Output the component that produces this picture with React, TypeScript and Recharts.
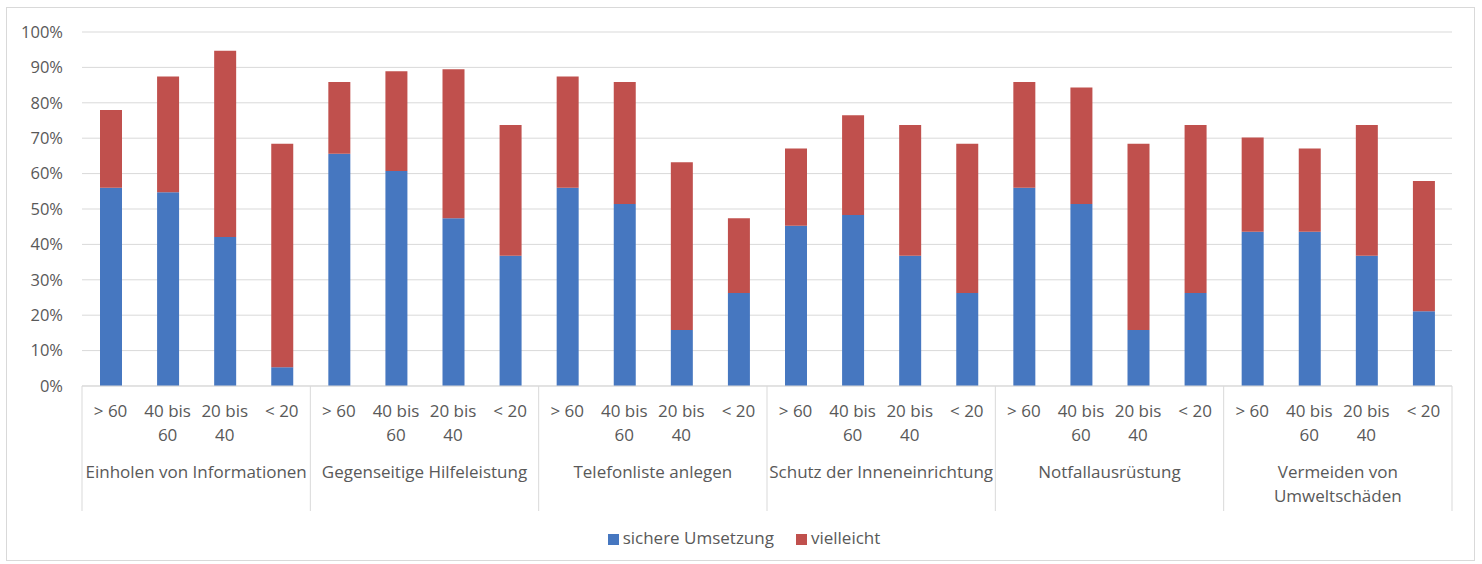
import { BarChart, Bar, XAxis, YAxis, CartesianGrid, Legend } from 'recharts';

// Handlungsbereitschaft nach Altersgruppe, sechs Maßnahmen mit je vier Altersgruppen
const groupLines: string[][] = [
  ['Einholen von Informationen'],
  ['Gegenseitige Hilfeleistung'],
  ['Telefonliste anlegen'],
  ['Schutz der Inneneinrichtung'],
  ['Notfallausrüstung'],
  ['Vermeiden von', 'Umweltschäden'],
];

const ageLines: string[][] = [['> 60'], ['40 bis', '60'], ['20 bis', '40'], ['< 20']];

const sichereUmsetzung = [
  56, 54.7, 42.1, 5.3,
  65.6, 60.7, 47.4, 36.8,
  56, 51.4, 15.8, 26.3,
  45.3, 48.3, 36.8, 26.3,
  56, 51.4, 15.8, 26.3,
  43.6, 43.6, 36.8, 21.1,
];

const vielleicht = [
  22, 32.7, 52.6, 63.1,
  20.3, 28.2, 42.1, 36.9,
  31.4, 34.5, 47.4, 21.1,
  21.8, 28.2, 36.9, 42.1,
  29.9, 32.9, 52.6, 47.4,
  26.6, 23.5, 36.9, 36.8,
];

const yTicks = [0, 10, 20, 30, 40, 50, 60, 70, 80, 90, 100];

const BLUE = '#4677C0';
const RED = '#C0504D';
const TEXT = '#595959';
const LINE = '#D9D9D9';
const FONT = '"Open Sans", sans-serif';

const WIDTH = 1482;
const HEIGHT = 564;
const LEGEND_HEIGHT = 20;
const X_AXIS_HEIGHT = 130;
const MARGIN = { top: 32, right: 30, left: 22, bottom: 48 - LEGEND_HEIGHT };
const Y_AXIS_WIDTH = 60;
const AGES = ageLines.length;

const data = sichereUmsetzung.map((s, i) => ({
  id: i,
  sicher: s,
  vielleicht: vielleicht[i],
}));

const fallbackHalfBand =
  (WIDTH - MARGIN.left - MARGIN.right - Y_AXIS_WIDTH) / data.length / 2;

function CategoryTick(props: any) {
  const { x, y, payload } = props;
  const i: number = props.index ?? payload.index;
  const half: number = payload.offset || fallbackHalfBand;
  const ages = ageLines[i % AGES];
  const group = groupLines[Math.floor(i / AGES)];

  return (
    <g fontFamily={FONT} fontSize={17} fill={TEXT}>
      {ages.map((line, k) => (
        <text key={k} x={x} y={y + 31 + k * 24} textAnchor="middle">
          {line}
        </text>
      ))}
      {i % AGES === 0 && (
        <line x1={x - half} y1={y} x2={x - half} y2={y + 125} stroke={LINE} />
      )}
      {i === data.length - 1 && (
        <line x1={x + half} y1={y} x2={x + half} y2={y + 125} stroke={LINE} />
      )}
      {i % AGES === 1 &&
        group.map((line, k) => (
          <text key={k} x={x + half} y={y + 92 + k * 24} textAnchor="middle">
            {line}
          </text>
        ))}
    </g>
  );
}

export default function App() {
  return (
    <div
      style={{
        position: 'absolute',
        left: 0,
        top: 0,
        width: WIDTH,
        height: HEIGHT,
        background: '#fff',
      }}
    >
      <div
        style={{
          position: 'absolute',
          left: 6,
          top: 7,
          width: 1467,
          height: 552,
          border: `1px solid ${LINE}`,
        }}
      />
      <BarChart width={WIDTH} height={HEIGHT} data={data} margin={MARGIN} barSize={22}>
        <CartesianGrid vertical={false} stroke={LINE} />
        <XAxis
          dataKey="id"
          interval={0}
          height={X_AXIS_HEIGHT}
          tickSize={0}
          tickMargin={0}
          tickLine={false}
          axisLine={{ stroke: LINE }}
          tick={<CategoryTick />}
        />
        <YAxis
          width={Y_AXIS_WIDTH}
          domain={[0, 100]}
          ticks={yTicks}
          tickFormatter={(v) => `${v}%`}
          axisLine={false}
          tickLine={false}
          tickSize={0}
          tickMargin={19}
          tick={{ fill: TEXT, fontSize: 16.5, fontFamily: FONT }}
        />
        <Legend
          iconType="square"
          iconSize={11}
          height={LEGEND_HEIGHT}
          wrapperStyle={{ top: 526, left: 8, width: WIDTH, fontFamily: FONT, fontSize: 17 }}
          formatter={(value, _entry, index) => (
            <span style={{ color: TEXT, marginRight: index === 0 ? 12 : 0 }}>{value}</span>
          )}
        />
        <Bar
          dataKey="sicher"
          name="sichere Umsetzung"
          stackId="a"
          fill={BLUE}
          isAnimationActive={false}
        />
        <Bar
          dataKey="vielleicht"
          name="vielleicht"
          stackId="a"
          fill={RED}
          isAnimationActive={false}
        />
      </BarChart>
    </div>
  );
}
